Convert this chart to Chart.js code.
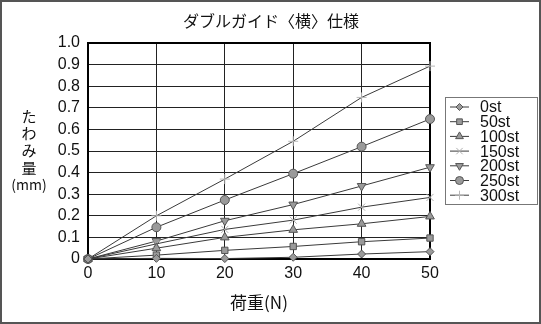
<!DOCTYPE html>
<html>
<head>
<meta charset="utf-8">
<script src="https://cdn.jsdelivr.net/npm/chart.js@4/dist/chart.umd.min.js"></script>
<style>
  html, body { margin: 0; padding: 0; background: #fff; }
  #wrap { width: 541px; height: 324px; position: relative; }
</style>
</head>
<body>
<div id="wrap"><canvas id="c"></canvas></div>
<script>
const loads = [0, 10, 20, 30, 40, 50];
const strokes = ['0st', '50st', '100st', '150st', '200st', '250st', '300st'];
const s0   = [0, 0.003, 0.002, 0.008, 0.023, 0.034];
const s50  = [0, 0.018, 0.040, 0.058, 0.080, 0.097];
const s100 = [0, 0.050, 0.100, 0.135, 0.163, 0.197];
const s150 = [0, 0.070, 0.137, 0.180, 0.240, 0.285];
const s200 = [0, 0.083, 0.177, 0.252, 0.338, 0.425];
const s250 = [0, 0.147, 0.273, 0.395, 0.520, 0.648];
const s300 = [0, 0.200, 0.370, 0.545, 0.748, 0.893];
const yTicks = [0, 0.1, 0.2, 0.3, 0.4, 0.5, 0.6, 0.7, 0.8, 0.9, 1.0];

const FONT = "'Liberation Sans', 'Noto Sans CJK JP', sans-serif";
const JFONT = "'Noto Sans CJK JP', 'Liberation Sans', sans-serif";

// marker look per series
const looks = [
	{ps: 'rectRot', r: 4, rot: 0, fill: '#9a9a9a', line: '#555'},
	{ps: 'rect', r: 4.5, rot: 0, fill: '#9a9a9a', line: '#555'},
	{ps: 'triangle', r: 5, rot: 0, fill: '#9a9a9a', line: '#555'},
	{ps: 'crossRot', r: 5, rot: 0, fill: '#b0b0b0', line: '#b0b0b0'},
	{ps: 'triangle', r: 5, rot: 180, fill: '#9a9a9a', line: '#555'},
	{ps: 'circle', r: 4.5, rot: 0, fill: '#9a9a9a', line: '#555'},
	{ps: 'cross', r: 5, rot: 0, fill: '#b8b8b8', line: '#b8b8b8'}
];
const values = [s0, s50, s100, s150, s200, s250, s300];

let datasets = [];
for (let i = 0; i < strokes.length; i++) {
	let lk = looks[i];
	datasets.push({
		label: strokes[i],
		data: loads.map((x, j) => ({x: x, y: values[i][j]})),
		borderColor: '#3a3a3a',
		borderWidth: 1,
		backgroundColor: lk.fill,
		pointStyle: lk.ps,
		pointRadius: lk.r,
		pointRotation: lk.rot,
		pointBorderColor: lk.line,
		pointBorderWidth: 1,
		pointBackgroundColor: lk.fill,
		tension: 0,
		fill: false,
		clip: false
	});
}

const decor = {
	id: 'decor',
	beforeDatasetsDraw(chart) {
		const ctx = chart.ctx, a = chart.chartArea;
		ctx.save();
		ctx.strokeStyle = '#000';
		ctx.lineWidth = 2;
		ctx.strokeRect(a.left, a.top, a.right - a.left, a.bottom - a.top);
		ctx.restore();
	},
	afterDraw(chart) {
		const ctx = chart.ctx;
		ctx.save();
		// outer frame
		ctx.strokeStyle = '#555';
		ctx.lineWidth = 2;
		ctx.strokeRect(1, 1, 539, 322);

		// chart title
		ctx.fillStyle = '#111';
		ctx.textAlign = 'center';
		ctx.textBaseline = 'middle';
		ctx.font = '16px ' + JFONT;
		ctx.fillText('ダブルガイド〈横〉仕様', 271, 21);

		// y axis title, stacked
		ctx.font = '15px ' + JFONT;
		const chars = ['た', 'わ', 'み', '量'];
		chars.forEach((c, k) => ctx.fillText(c, 29, 116 + k * 17.3));
		ctx.font = '14px ' + JFONT;
		ctx.fillText('(mm)', 29, 185);

		// legend box
		ctx.strokeStyle = '#777';
		ctx.lineWidth = 1;
		ctx.strokeRect(445.5, 97.5, 92, 107);
		ctx.font = '16px ' + FONT;
		ctx.textAlign = 'left';
		for (let i = 0; i < strokes.length; i++) {
			const y = 107 + i * 14.7;
			const lk = looks[i];
			ctx.strokeStyle = '#3a3a3a';
			ctx.beginPath();
			ctx.moveTo(450, y);
			ctx.lineTo(469, y);
			ctx.stroke();
			ctx.fillStyle = lk.fill;
			ctx.strokeStyle = lk.line;
			if (Chart.helpers && Chart.helpers.drawPoint) {
				Chart.helpers.drawPoint(ctx, {pointStyle: lk.ps, radius: lk.r - 0.5, rotation: lk.rot, borderWidth: 1}, 459.5, y);
			}
			ctx.fillStyle = '#111';
			ctx.fillText(strokes[i], 480, y + 1);
		}
		ctx.restore();
	}
};

new Chart(document.getElementById('c'), {
	type: 'line',
	data: { datasets: datasets },
	plugins: [decor],
	options: {
		responsive: true,
		maintainAspectRatio: false,
		animation: false,
		layout: { padding: { left: 0, right: 111, top: 43, bottom: 8 } },
		plugins: {
			legend: { display: false },
			tooltip: { enabled: false },
			title: { display: false }
		},
		scales: {
			x: {
				type: 'linear',
				min: 0, max: 50,
				afterBuildTicks: s => { s.ticks = loads.map(v => ({value: v})); },
				afterFit: s => { s.height = 57; },
				grid: { color: '#222', lineWidth: 1, drawTicks: false },
				border: { color: '#000', width: 2 },
				ticks: { color: '#111', font: { family: FONT, size: 16 }, padding: 5, maxRotation: 0, autoSkip: false },
				title: { display: true, text: '荷重(N)', color: '#111', font: { family: JFONT, size: 17 }, padding: { top: 4, bottom: 3 } }
			},
			y: {
				min: 0, max: 1.0,
				afterBuildTicks: s => { s.ticks = yTicks.map(v => ({value: v})); },
				afterFit: s => { s.width = 88; },
				grid: { color: '#222', lineWidth: 1, drawTicks: false },
				border: { color: '#000', width: 2 },
				ticks: {
					color: '#111',
					font: { family: FONT, size: 16 },
					padding: 8,
					autoSkip: false,
					callback: v => v === 0 ? '0' : v.toFixed(1)
				}
			}
		}
	}
});
</script>
</body>
</html>
